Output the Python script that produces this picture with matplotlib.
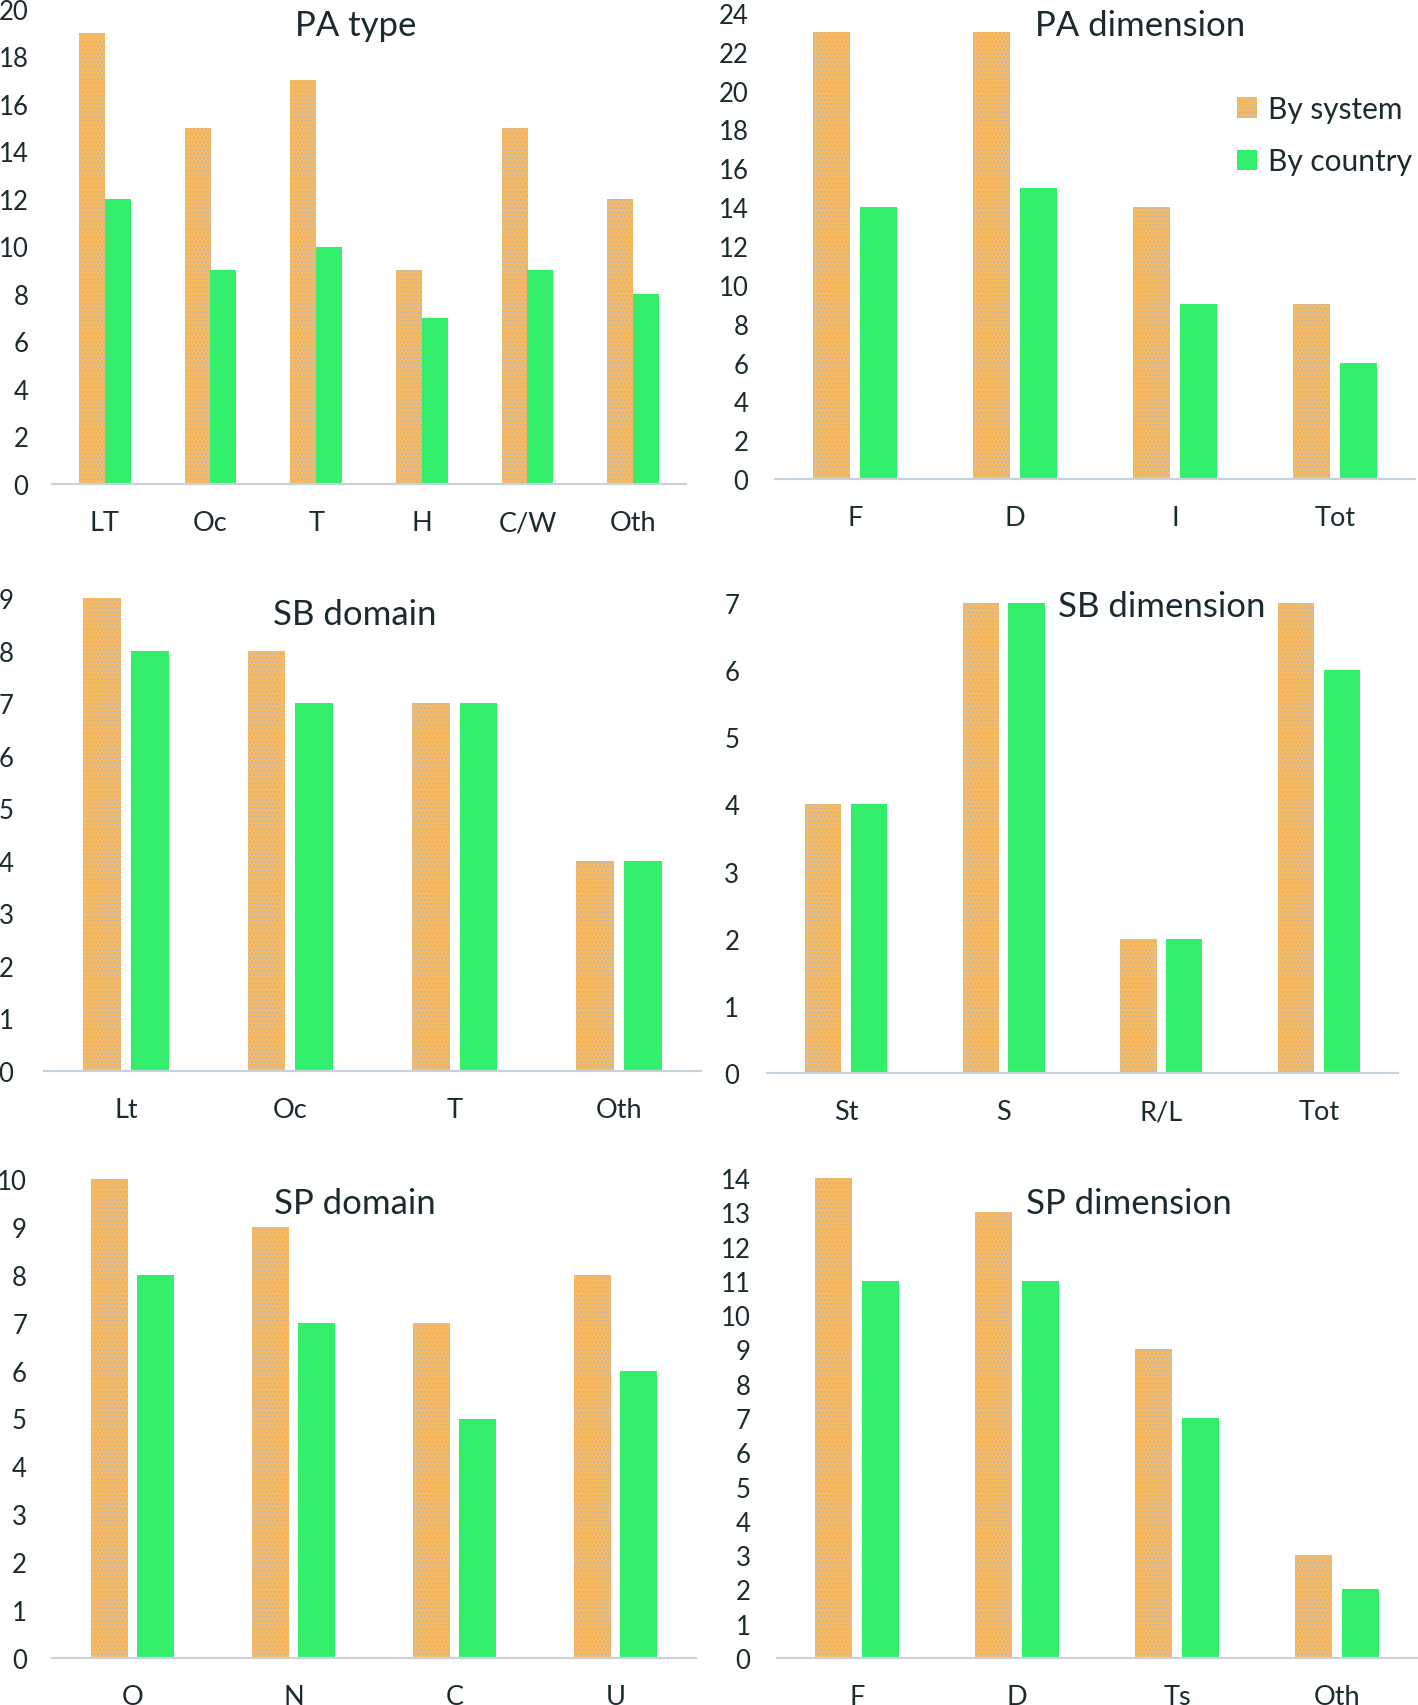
import numpy as np
import matplotlib
matplotlib.use("Agg")
import matplotlib.pyplot as plt

plt.rcParams['font.family'] = ['Lato', 'DejaVu Sans']
plt.rcParams['hatch.linewidth'] = 0.6

# ---- data ----
pa_type_cats = ['LT', 'Oc', 'T', 'H', 'C/W', 'Oth']
pa_type_sys = [19, 15, 17, 9, 15, 12]
pa_type_cty = [12, 9, 10, 7, 9, 8]

pa_dim_cats = ['F', 'D', 'I', 'Tot']
pa_dim_sys = [23, 23, 14, 9]
pa_dim_cty = [14, 15, 9, 6]

sb_dom_cats = ['Lt', 'Oc', 'T', 'Oth']
sb_dom_sys = [9, 8, 7, 4]
sb_dom_cty = [8, 7, 7, 4]

sb_dim_cats = ['St', 'S', 'R/L', 'Tot']
sb_dim_sys = [4, 7, 2, 7]
sb_dim_cty = [4, 7, 2, 6]

sp_dom_cats = ['O', 'N', 'C', 'U']
sp_dom_sys = [10, 9, 7, 8]
sp_dom_cty = [8, 7, 5, 6]

sp_dim_cats = ['F', 'D', 'Ts', 'Oth']
sp_dim_sys = [14, 13, 9, 3]
sp_dim_cty = [11, 11, 7, 2]

ORANGE = '#f8b85c'
GREEN = '#33ee6d'
TXT = '#1b2a2e'
AXC = '#c6d3dc'

W, H = 1418, 1706
fig = plt.figure(figsize=(W / 100, H / 100), dpi=100)


def make_panel(px, cats, sys_v, cty_v, ymax, ystep, title, title_xy,
               width=0.23, off=0.145, ypad=18):
    # px = (left, right, top, bottom) in pixels
    l, r, t, b = px
    ax = fig.add_axes([l / W, 1 - b / H, (r - l) / W, (b - t) / H])
    x = np.arange(len(cats))
    ax.bar(x - off, sys_v, width, color=ORANGE, edgecolor='#a7b6d8',
           linewidth=0, hatch='....', label='By system')
    ax.bar(x + off, cty_v, width, color=GREEN, linewidth=0, label='By country')
    ax.set_xlim(-0.5, len(cats) - 0.5)
    ax.set_ylim(0, ymax)
    ax.set_yticks(np.arange(0, ymax + 0.1, ystep))
    ax.set_xticks(x)
    ax.set_xticklabels(cats)
    for s in ['top', 'right', 'left']:
        ax.spines[s].set_visible(False)
    ax.spines['bottom'].set_color(AXC)
    ax.spines['bottom'].set_linewidth(1.6)
    ax.tick_params(axis='both', length=0, colors=TXT)
    ax.tick_params(axis='x', pad=19, labelsize=19.5)
    ax.tick_params(axis='y', pad=ypad, labelsize=18.5)
    ax.set_facecolor('none')
    fig.text(title_xy[0] / W, 1 - title_xy[1] / H, title, ha='center',
             va='center', fontsize=25, color=TXT)
    return ax


make_panel((52, 686, 10, 485), pa_type_cats, pa_type_sys, pa_type_cty,
           20, 2, 'PA type', (356, 26), width=0.245, off=0.122, ypad=17)
ax_pd = make_panel((775, 1415, 14, 480), pa_dim_cats, pa_dim_sys, pa_dim_cty,
                   24, 2, 'PA dimension', (1140, 26), ypad=19)
make_panel((44, 701, 599, 1072), sb_dom_cats, sb_dom_sys, sb_dom_cty,
           9, 1, 'SB domain', (355, 615), ypad=22)
make_panel((767, 1398, 604, 1074), sb_dim_cats, sb_dim_sys, sb_dim_cty,
           7, 1, 'SB dimension', (1162, 607), ypad=20)
make_panel((52, 696, 1180, 1659), sp_dom_cats, sp_dom_sys, sp_dom_cty,
           10, 1, 'SP domain', (355, 1204), ypad=18)
make_panel((777, 1417, 1179, 1659), sp_dim_cats, sp_dim_sys, sp_dim_cty,
           14, 1, 'SP dimension', (1129, 1204), ypad=19)

ax_pd.legend(loc='upper left', bbox_to_anchor=(1237 / W, 1 - 96 / H),
             bbox_transform=fig.transFigure, frameon=False, fontsize=21.5,
             handlelength=0.68, handleheight=0.68, handletextpad=0.35,
             labelspacing=0.82, borderpad=0, borderaxespad=0,
             labelcolor=TXT)

fig.savefig('out.png', dpi=100)
